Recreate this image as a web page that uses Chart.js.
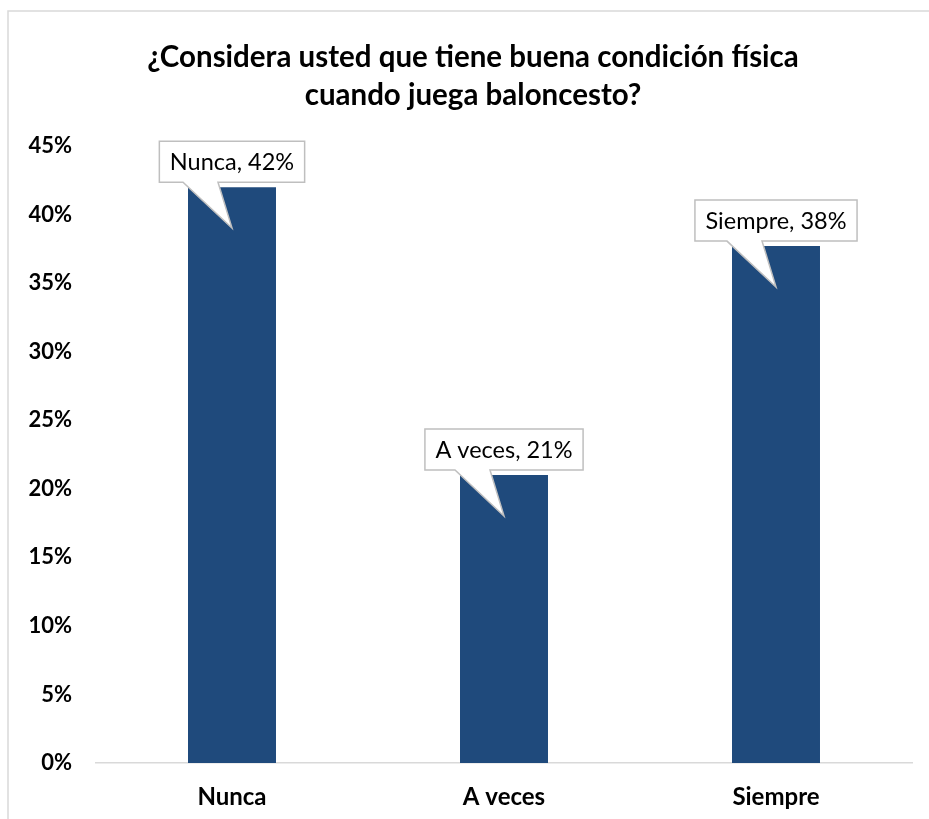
<!DOCTYPE html>
<html>
<head>
<meta charset="utf-8">
<script src="https://cdn.jsdelivr.net/npm/chart.js@4.4.1/dist/chart.umd.min.js"></script>
<style>
  html, body { margin: 0; padding: 0; background: #ffffff; }
  #wrap { width: 929px; height: 819px; position: relative; }
</style>
</head>
<body>
<div id="wrap"><canvas id="c" width="929" height="819"></canvas></div>
<script>
const categories = ["Nunca", "A veces", "Siempre"];
const values = [42, 21, 37.7];
const titleLines = ["¿Considera usted que tiene buena condición física", "cuando juega baloncesto?"];
const yTickMax = 45;
const yTickStep = 5;

const FONT = "Lato, 'Noto Sans', sans-serif";

const frame = {
  id: 'frame',
  beforeDraw(chart) {
    const ctx = chart.ctx;
    ctx.save();
    ctx.fillStyle = '#ffffff';
    ctx.fillRect(0, 0, chart.width, chart.height);
    ctx.strokeStyle = '#d9d9d9';
    ctx.lineWidth = 1.5;
    ctx.strokeRect(8, 11, 1200, 1200);
    ctx.restore();
  },
  afterDraw(chart) {
    const ctx = chart.ctx;
    ctx.save();
    ctx.font = "bold 29.5px " + FONT;
    ctx.fillStyle = '#000000';
    ctx.textAlign = 'center';
    ctx.textBaseline = 'middle';
    titleLines.forEach((t, i) => ctx.fillText(t, 473, 57 + i * 38));
    ctx.restore();
  }
};

const callouts = {
  id: 'callouts',
  afterDatasetsDraw(chart) {
    const ctx = chart.ctx;
    const meta = chart.getDatasetMeta(0);
    ctx.save();
    ctx.font = "23.5px " + FONT;
    meta.data.forEach((bar, i) => {
      const label = categories[i] + ", " + Math.round(values[i]) + "%";
      const tw = ctx.measureText(label).width;
      const w = tw + 21;
      const h = 41;
      const cx = bar.x;
      const bottom = bar.y - 5;
      const top = bottom - h;
      const left = cx - w / 2;
      const right = cx + w / 2;
      const tipX = cx, tipY = bar.y + 41;
      ctx.beginPath();
      ctx.moveTo(left, top);
      ctx.lineTo(right, top);
      ctx.lineTo(right, bottom);
      ctx.lineTo(cx - 14, bottom);
      ctx.lineTo(tipX, tipY);
      ctx.lineTo(cx - 49, bottom);
      ctx.lineTo(left, bottom);
      ctx.closePath();
      ctx.fillStyle = '#ffffff';
      ctx.fill();
      ctx.strokeStyle = '#bfbfbf';
      ctx.lineWidth = 1.5;
      ctx.stroke();
      ctx.fillStyle = '#000000';
      ctx.textAlign = 'center';
      ctx.textBaseline = 'middle';
      ctx.fillText(label, cx, (top + bottom) / 2 + 1);
    });
    ctx.restore();
  }
};

new Chart(document.getElementById('c'), {
  type: 'bar',
  data: {
    labels: categories,
    datasets: [{
      data: values,
      backgroundColor: '#1f4a7c',
      borderWidth: 0,
      categoryPercentage: 1,
      barPercentage: 0.3235
    }]
  },
  options: {
    responsive: false,
    animation: false,
    devicePixelRatio: 1,
    layout: { padding: { left: 0, right: 17, top: 146, bottom: 0 } },
    plugins: {
      legend: { display: false },
      tooltip: { enabled: false },
      title: { display: false }
    },
    scales: {
      x: {
        grid: { display: false, drawTicks: false },
        border: { display: true, color: '#d9d9d9', width: 1.5 },
        ticks: { color: '#000000', font: { family: FONT, size: 24, weight: 'bold' }, padding: 20 },
        afterFit(s) { s.height = 56; }
      },
      y: {
        min: 0,
        max: yTickMax,
        grid: { display: false, drawTicks: false },
        border: { display: false },
        ticks: {
          stepSize: yTickStep,
          color: '#000000',
          font: { family: FONT, size: 22, weight: 'bold' },
          padding: 24,
          callback: v => v + '%'
        },
        afterFit(s) { s.width = 96; }
      }
    }
  },
  plugins: [frame, callouts]
});
</script>
</body>
</html>
